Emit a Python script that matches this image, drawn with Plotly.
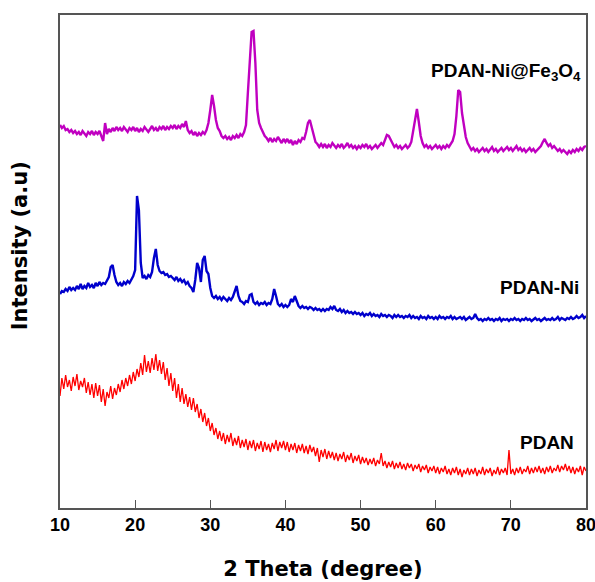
import plotly.graph_objects as go

# 2-theta sampling grid (degrees), 0.25 deg step from 10 to 80
two_theta = [round(10 + 0.25 * i, 2) for i in range(281)]

# Intensity (a.u.), offset traces as plotted
pdan_ni_fe3o4 = [
    383, 380, 382, 378, 379, 376, 378, 375, 377, 374, 376, 373, 377, 375, 372, 376, 374, 377, 373, 376,
    374, 377, 372, 367, 385, 374, 379, 376, 380, 377, 381, 378, 380, 377, 381, 379, 376, 380, 378, 381,
    377, 380, 376, 379, 377, 381, 378, 376, 379, 382, 378, 380, 377, 381, 379, 382, 378, 381, 379, 382,
    380, 383, 379, 382, 380, 384, 381, 387, 378, 375, 377, 373, 376, 372, 375, 373, 376, 374, 378, 385,
    398, 413, 402, 388, 380, 377, 372, 370, 372, 369, 371, 368, 372, 370, 373, 370, 374, 372, 376, 383,
    415, 450, 476, 477, 445, 398, 385, 380, 376, 372, 370, 367, 370, 366, 369, 367, 371, 368, 365, 369,
    366, 369, 365, 368, 363, 367, 364, 368, 366, 370, 369, 376, 385, 388, 380, 371, 366, 364, 361, 364,
    361, 364, 360, 363, 361, 365, 362, 360, 363, 361, 364, 360, 362, 365, 361, 363, 360, 362, 359, 362,
    360, 363, 361, 364, 360, 362, 359, 361, 363, 360, 362, 365, 363, 369, 373, 372, 368, 364, 361, 363,
    360, 362, 359, 361, 363, 360, 362, 366, 377, 392, 399, 386, 372, 365, 361, 363, 360, 362, 359, 361,
    363, 360, 362, 359, 362, 360, 363, 361, 364, 367, 374, 392, 418, 416, 395, 380, 371, 365, 361, 358,
    360, 357, 359, 356, 358, 360, 357, 359, 356, 358, 361, 357, 359, 356, 358, 360, 357, 359, 361, 358,
    360, 357, 359, 362, 358, 360, 357, 359, 356, 358, 360, 357, 359, 356, 358, 361, 362, 366, 369, 365,
    362, 364, 360, 362, 359, 357, 359, 356, 358, 356, 354, 357, 355, 358, 356, 359, 357, 360, 358, 361,
    362,
]

pdan_ni = [
    214, 217, 216, 219, 217, 221, 218, 220, 218, 222, 219, 224, 219, 222, 220, 225, 221, 223, 220, 225,
    222, 226, 223, 225, 224, 227, 231, 241, 243, 233, 226, 223, 225, 222, 226, 224, 227, 225, 228, 232,
    238, 312, 298, 245, 230, 232, 229, 233, 231, 236, 250, 259, 243, 237, 235, 236, 233, 234, 231, 232,
    230, 228, 231, 227, 229, 226, 228, 224, 226, 222, 220, 216, 228, 245, 240, 226, 248, 252, 237, 234,
    220, 212, 210, 212, 209, 211, 208, 211, 209, 207, 210, 208, 211, 216, 222, 212, 207, 206, 204, 207,
    206, 213, 214, 206, 204, 206, 203, 205, 204, 206, 203, 205, 204, 209, 219, 212, 204, 202, 204, 201,
    203, 201, 203, 209, 206, 212, 207, 202, 200, 202, 200, 201, 199, 201, 200, 198, 200, 198, 199, 197,
    199, 197, 199, 198, 201, 199, 202, 198, 197, 199, 196, 198, 195, 197, 195, 196, 194, 196, 194, 195,
    193, 195, 192, 194, 193, 195, 192, 194, 192, 193, 191, 194, 192, 193, 191, 193, 192, 190, 193, 191,
    193, 191, 192, 190, 192, 191, 193, 190, 192, 190, 191, 189, 192, 190, 191, 189, 192, 190, 191, 189,
    191, 189, 192, 190, 191, 189, 191, 190, 192, 189, 191, 189, 190, 191, 189, 191, 188, 190, 191, 189,
    190, 194, 190, 188, 189, 187, 189, 188, 190, 188, 189, 187, 189, 188, 190, 187, 189, 188, 189, 187,
    189, 188, 190, 188, 189, 187, 189, 188, 190, 188, 189, 187, 189, 190, 188, 189, 187, 189, 190, 188,
    189, 188, 190, 188, 189, 191, 188, 190, 189, 188, 190, 189, 191, 189, 190, 192, 190, 191, 193, 190,
    192,
]

pdan = [
    112, 130, 119, 133, 121, 128, 117, 131, 122, 134, 118, 127, 121, 130, 115, 126, 113, 124, 110, 125,
    112, 123, 106, 119, 102, 116, 110, 122, 109, 120, 113, 124, 116, 128, 119, 130, 122, 133, 124, 136,
    127, 139, 131, 145, 133, 153, 136, 147, 135, 150, 138, 154, 137, 148, 134, 146, 128, 140, 122, 135,
    117, 130, 110, 124, 106, 120, 104, 114, 101, 111, 98, 110, 96, 104, 90, 99, 86, 95, 82, 90,
    77, 85, 73, 80, 69, 77, 67, 75, 64, 73, 66, 75, 62, 70, 63, 72, 60, 68, 61, 69,
    58, 67, 60, 68, 57, 65, 59, 67, 56, 66, 58, 64, 56, 65, 59, 68, 57, 66, 60, 67,
    58, 66, 56, 64, 58, 65, 55, 63, 57, 64, 55, 62, 54, 63, 56, 61, 52, 60, 46, 58,
    51, 59, 49, 57, 50, 56, 48, 55, 47, 54, 49, 56, 46, 53, 48, 55, 45, 52, 47, 53,
    44, 51, 45, 50, 43, 49, 44, 50, 42, 48, 44, 55, 42, 47, 40, 46, 41, 47, 39, 45,
    40, 46, 39, 44, 38, 45, 40, 44, 37, 43, 39, 44, 36, 42, 38, 43, 35, 41, 37, 42,
    35, 41, 34, 40, 36, 42, 34, 39, 33, 40, 35, 41, 33, 39, 31, 38, 34, 40, 33, 39,
    34, 40, 32, 38, 34, 41, 33, 39, 35, 40, 32, 38, 34, 41, 33, 39, 35, 40, 33, 58,
    34, 39, 33, 40, 35, 41, 34, 39, 36, 42, 34, 40, 35, 41, 36, 42, 35, 40, 34, 41,
    36, 42, 35, 40, 37, 43, 36, 42, 38, 44, 37, 42, 35, 41, 34, 40, 36, 42, 33, 41,
    37,
]

series_names = ["PDAN-Ni@Fe<sub>3</sub>O<sub>4</sub>", "PDAN-Ni", "PDAN"]
series_colors = ["#C000C0", "#0000CC", "#FF0000"]
series_widths = [2.4, 2.4, 1.3]
series_values = [pdan_ni_fe3o4, pdan_ni, pdan]
label_pos = [(79.6, 436), (79.3, 221), (78.7, 66)]

x_ticks = [10, 20, 30, 40, 50, 60, 70, 80]

fig = go.Figure()
for name, col, w, vals in zip(series_names, series_colors, series_widths, series_values):
    fig.add_trace(go.Scatter(x=two_theta, y=vals, mode="lines", name=name,
                             line=dict(color=col, width=w), showlegend=False))

for name, (lx, ly) in zip(series_names, label_pos):
    fig.add_annotation(x=lx, y=ly, xref="x", yref="y", text="<b>" + name + "</b>", showarrow=False,
                       xanchor="right", yanchor="middle",
                       font=dict(family="Liberation Sans, Arial", size=19, color="black"))

fig.add_annotation(x=-0.076, y=0.531, xref="paper", yref="paper", text="<b>Intensity (a.u)</b>",
                   textangle=-90, showarrow=False, xanchor="center", yanchor="middle",
                   font=dict(family="DejaVu Sans", size=21, color="black"))

axis_line = "#555555"
fig.update_layout(
    width=595, height=582,
    margin=dict(l=60, r=9, t=15, b=74, autoexpand=False),
    paper_bgcolor="white", plot_bgcolor="white",
    xaxis=dict(range=[10, 80], tickvals=x_ticks, ticktext=["<b>%d</b>" % t for t in x_ticks],
               ticks="inside", ticklen=8, tickwidth=1.3, tickcolor=axis_line,
               ticklabeloverflow="allow", automargin=False,
               showline=True, linecolor=axis_line, linewidth=1.6, mirror=True,
               showgrid=False, zeroline=False,
               tickfont=dict(family="Liberation Sans, Arial", size=18, color="black"),
               title=dict(text="<b>2 Theta (degree)</b>", standoff=27,
                          font=dict(family="DejaVu Sans", size=21, color="black"))),
    yaxis=dict(range=[0, 493], showticklabels=False, ticks="", automargin=False,
               showline=True, linecolor=axis_line, linewidth=1.6, mirror=True,
               showgrid=False, zeroline=False),
)

# remove the browser's default body margin so the 595x582 figure fills the window exactly
fig.write_html("out.html",
               config={"displayModeBar": False},
               post_script="document.body.style.margin='0px';document.body.style.overflow='hidden';")
